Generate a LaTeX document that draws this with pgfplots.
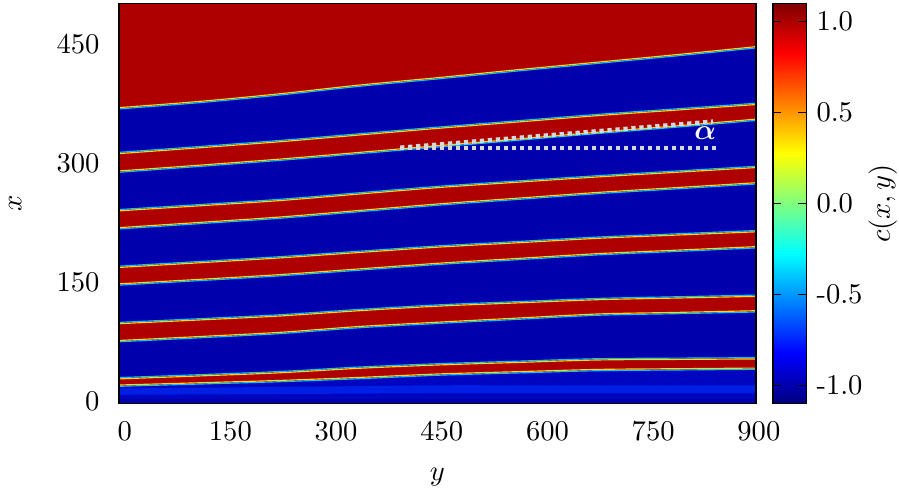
\documentclass[border=0pt]{standalone}
\usepackage{pgfplots}
\usepackage{pgfplotstable}
\usepackage{bm}
\pgfplotsset{compat=1.18}
\usepgfplotslibrary{fillbetween}

\definecolor{redc}{RGB}{174,0,0}
\definecolor{bluec}{RGB}{0,0,172}
\definecolor{midblue}{RGB}{0,6,192}
\definecolor{brightblue}{RGB}{0,30,228}
\definecolor{ifyel}{RGB}{255,215,0}
\definecolor{ifcyan}{RGB}{0,200,255}
\definecolor{dotgray}{RGB}{215,215,215}

\pgfplotstableread{
u    top   b1t   b1b   b2t   b2b   b3t   b3b   b4t   b4b   b5t   b5b   ceil lo s0   s1
-4   370   313   290   240.8 218.5 169.3 147.5 98.3  76    28.6  19.8  502  3  8    16
112  378   320.5 297.5 247.2 225.2 175.3 153.3 103.1 81.1  32.4  22.7  502  3  8.5  17
224  387.5 328   305   253.7 231.9 181.3 159.2 108   86.3  36.3  25.6  502  3  9    18
337  398.5 336.5 313.5 262   240.2 188.2 166.4 114.7 93.7  42    29.4  502  3  9.5  19
450  408   345   322   270.2 248.5 195   173.6 120.5 99.2  46.2  33.8  502  3  10   20
563  418   353   330.5 277   255.8 200.5 179.7 124.6 104.4 49.4  36.7  502  3  10   20
676  427.5 361   339   283.6 263   206.1 185.7 128.6 109.5 52.5  39.5  502  3  10   20
788  437   368   347   289.5 269.1 210.2 190.1 130.7 111.5 53.2  40.4  502  3  10   20
900  447   375   355.5 295.4 275.2 214.3 194.5 132.8 113.6 53.8  41.2  502  3  10   20
}\bands

\begin{document}
\begin{tikzpicture}
\begin{axis}[
  at={(0,0)}, anchor=south west,
  scale only axis, width=222.95pt, height=140pt,
  xmin=-4, xmax=900, ymin=-3, ymax=502,
  xtick={0,150,300,450,600,750,900},
  ytick={0,150,300,450},
  tick style={draw=none},
  axis on top,
  axis line style={line width=0.6pt},
  axis background/.style={fill=bluec},
  xlabel={$y$}, ylabel={$x$},
  xlabel style={at={(axis description cs:0.5,-0.184)}, anchor=center},
  ylabel style={at={(axis description cs:-0.163,0.5)}, anchor=center},
  xticklabel style={yshift=-3pt, xshift=1pt},
  yticklabel style={xshift=-3.3pt},
  colorbar,
  colormap/jet,
  point meta min=-1.1, point meta max=1.1,
  colorbar style={
    scale only axis,
    width=11.6pt,
    at={(parent axis.north east)}, anchor=north west, xshift=-2.5pt,
    ytick={-1,-0.5,0,0.5,1},
    yticklabels={-1.0,-0.5,0.0,0.5,1.0},
    ytick pos=both, yticklabel pos=right,
    tick align=inside,
    major tick length=2.8pt,
    tick style={draw=black, line width=0.5pt},
    axis line style={line width=0.6pt},
    ylabel={$c(x,y)$},
    ylabel style={at={(axis description cs:3.3,0.5)}, anchor=center},
  },
]
% interface paths
\addplot[draw=none, name path=ceil] table[x=u,y=ceil]{\bands};
\addplot[draw=none, smooth, name path=top] table[x=u,y=top]{\bands};
\addplot[draw=none, smooth, name path=b1t] table[x=u,y=b1t]{\bands};
\addplot[draw=none, smooth, name path=b1b] table[x=u,y=b1b]{\bands};
\addplot[draw=none, smooth, name path=b2t] table[x=u,y=b2t]{\bands};
\addplot[draw=none, smooth, name path=b2b] table[x=u,y=b2b]{\bands};
\addplot[draw=none, smooth, name path=b3t] table[x=u,y=b3t]{\bands};
\addplot[draw=none, smooth, name path=b3b] table[x=u,y=b3b]{\bands};
\addplot[draw=none, smooth, name path=b4t] table[x=u,y=b4t]{\bands};
\addplot[draw=none, smooth, name path=b4b] table[x=u,y=b4b]{\bands};
\addplot[draw=none, smooth, name path=b5t] table[x=u,y=b5t]{\bands};
\addplot[draw=none, smooth, name path=b5b] table[x=u,y=b5b]{\bands};
\addplot[draw=none, name path=lo] table[x=u,y=lo]{\bands};
\addplot[draw=none, smooth, name path=s0] table[x=u,y=s0]{\bands};
\addplot[draw=none, smooth, name path=s1] table[x=u,y=s1]{\bands};
% bottom lighter region
\addplot[midblue] fill between[of=lo and b5b];
\addplot[brightblue] fill between[of=s0 and s1];
% red regions
\addplot[redc] fill between[of=top and ceil];
\addplot[redc] fill between[of=b1t and b1b];
\addplot[redc] fill between[of=b2t and b2b];
\addplot[redc] fill between[of=b3t and b3b];
\addplot[redc] fill between[of=b4t and b4b];
\addplot[redc] fill between[of=b5t and b5b];
% interfaces: red below (blue above)
\pgfplotsinvokeforeach{b1t,b2t,b3t,b4t,b5t}{
  \addplot[ifcyan, smooth, line width=0.4pt, yshift=0.3pt] table[x=u,y=#1]{\bands};
  \addplot[ifyel, smooth, line width=0.4pt, yshift=-0.15pt] table[x=u,y=#1]{\bands};
}
% interfaces: red above (blue below)
\pgfplotsinvokeforeach{top,b1b,b2b,b3b,b4b,b5b}{
  \addplot[ifcyan, smooth, line width=0.4pt, yshift=-0.3pt] table[x=u,y=#1]{\bands};
  \addplot[ifyel, smooth, line width=0.4pt, yshift=0.15pt] table[x=u,y=#1]{\bands};
}
% angle indicator
\addplot[dotgray, line width=1.5pt, dash pattern=on 1.5pt off 1.3pt] coordinates {(395,320) (843,320)};
\addplot[dotgray, line width=1.5pt, dash pattern=on 1.5pt off 1.3pt] coordinates {(395,320) (839,353)};
\node[text=white!95!gray] at (axis cs:828,338) {$\bm{\alpha}$};
\end{axis}
\pgfresetboundingbox
\path (-41.65pt,-30.275pt) rectangle (273.0pt,141.225pt);
\end{tikzpicture}
\end{document}
